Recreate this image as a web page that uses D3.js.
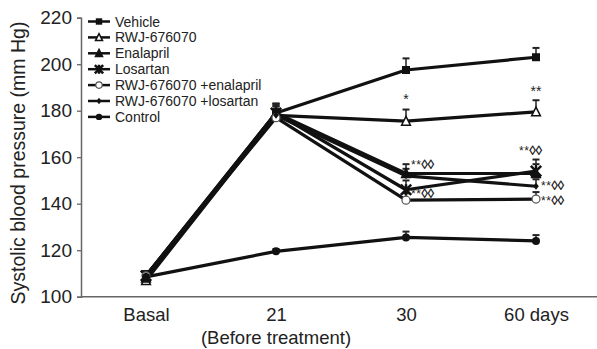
<!DOCTYPE html>
<html>
<head>
<meta charset="utf-8">
<script src="https://cdn.jsdelivr.net/npm/d3@7"></script>
<style>
  body { margin: 0; background: #fff; }
  text { font-family: "Liberation Sans", Arial, sans-serif; fill: #222; }
</style>
</head>
<body>
<div id="chart"></div>
<script>
// data
const timepoints = ["Basal", "21", "30", "60 days"]
const series_names = ["Vehicle", "RWJ-676070", "Enalapril", "Losartan",
  "RWJ-676070 +enalapril", "RWJ-676070 +losartan", "Control"]
const vehicle = [109, 179, 197.5, 203]
const rwj = [107, 178, 175.5, 179.5]
const enalapril = [108, 179, 153, 153]
const losartan = [109, 179, 146, 154]
const rwj_enalapril = [109, 177, 141.5, 142]
const rwj_losartan = [109, 178, 152, 147.5]
const control = [108.5, 119.5, 125.5, 124]
const errors_up = [
  [2, 4, 5, 4],
  [2, 4, 5, 5],
  [2, 4, 4, 4],
  [2, 4, 4, 5],
  [2, 4, 3, 3],
  [2, 4, 3, 3],
  [1, 1, 2.5, 2.5]
]
const y_ticks = [100, 120, 140, 160, 180, 200, 220]
const markers = ["square", "tri_open", "tri", "cross", "circle_open", "diamond", "circle"]
const annotations = [
  {t: 2, v: 183, label: "*"},
  {t: 3, v: 186.5, label: "**"}
]
const sig_marks = [
  {t: 2, v: 157, dx: 5},
  {t: 2, v: 144.5, dx: 5},
  {t: 3, v: 163, dx: -17},
  {t: 3, v: 148, dx: 5},
  {t: 3, v: 141.5, dx: 5}
]

const all_series = [vehicle, rwj, enalapril, losartan, rwj_enalapril, rwj_losartan, control]

const width = 597, height = 349
const svg = d3.select("#chart").append("svg")
  .attr("width", width).attr("height", height)

let x = d3.scalePoint().domain(timepoints).range([146, 536])
let y = d3.scaleLinear().domain([100, 220]).range([296.7, 17.7])

// axes
let y_axis = svg.append("g").attr("transform", "translate(81,0)")
  .call(d3.axisLeft(y).tickValues(y_ticks).tickSize(4).tickPadding(5))
y_axis.select(".domain").attr("stroke", "#666").attr("stroke-width", 1.5)
y_axis.selectAll(".tick line").attr("stroke", "#666").attr("stroke-width", 1.3)
y_axis.selectAll(".tick text").style("font-size", "19px").attr("fill", "#222")

let x_axis = svg.append("g").attr("transform", "translate(0,296.7)")
  .call(d3.axisBottom(x).tickSize(0).tickPadding(11))
x_axis.select(".domain").attr("d", "M81,0H597").attr("stroke", "#666").attr("stroke-width", 1.5)
x_axis.selectAll(".tick text").style("font-size", "18.5px").attr("fill", "#222")

svg.append("text").attr("x", 276).attr("y", 344).attr("text-anchor", "middle")
  .style("font-size", "18.5px").text("(Before treatment)")

svg.append("text")
  .attr("transform", "translate(25,163) rotate(-90)")
  .attr("text-anchor", "middle").style("font-size", "19.5px")
  .text("Systolic blood pressure (mm Hg)")

function draw_marker(g, kind, cx, cy, s) {
  let dark = "#111"
  if (kind == "square") {
    g.append("rect").attr("x", cx - s).attr("y", cy - s).attr("width", 2 * s).attr("height", 2 * s).attr("fill", dark)
  } else if (kind == "tri" || kind == "tri_open") {
    g.append("path").attr("d", `M${cx},${cy - s * 1.2}L${cx + s * 1.1},${cy + s}L${cx - s * 1.1},${cy + s}Z`)
      .attr("fill", kind == "tri" ? dark : "#fff").attr("stroke", dark).attr("stroke-width", 1.5)
  } else if (kind == "cross") {
    g.append("path").attr("d", `M${cx - s * 1.3},${cy - s * 1.3}L${cx + s * 1.3},${cy + s * 1.3}M${cx + s * 1.3},${cy - s * 1.3}L${cx - s * 1.3},${cy + s * 1.3}M${cx},${cy - s * 1.4}V${cy + s * 1.4}`)
      .attr("stroke", dark).attr("stroke-width", 2.5)
  } else if (kind == "circle_open") {
    g.append("circle").attr("cx", cx).attr("cy", cy).attr("r", s).attr("fill", "#fff").attr("stroke", "#555").attr("stroke-width", 1.2)
  } else if (kind == "diamond") {
    g.append("path").attr("d", `M${cx},${cy - s}L${cx + s * 0.8},${cy}L${cx},${cy + s}L${cx - s * 0.8},${cy}Z`).attr("fill", dark)
  } else {
    g.append("circle").attr("cx", cx).attr("cy", cy).attr("r", s).attr("fill", dark)
  }
}

let line = d3.line().x((d, i) => x(timepoints[i])).y(d => y(d))

// error bars
all_series.forEach((vals, si) => {
  vals.forEach((v, i) => {
    let cx = x(timepoints[i])
    let top = y(v + errors_up[si][i])
    svg.append("line").attr("x1", cx).attr("x2", cx).attr("y1", y(v)).attr("y2", top)
      .attr("stroke", "#222").attr("stroke-width", 1.5)
    svg.append("line").attr("x1", cx - 3.5).attr("x2", cx + 3.5).attr("y1", top).attr("y2", top)
      .attr("stroke", "#222").attr("stroke-width", 2)
  })
})

// lines
all_series.forEach((vals) => {
  svg.append("path").datum(vals).attr("d", line)
    .attr("fill", "none").attr("stroke", "#111").attr("stroke-width", 3.2)
    .attr("stroke-linejoin", "round")
})

// markers
all_series.forEach((vals, si) => {
  let g = svg.append("g")
  vals.forEach((v, i) => {
    draw_marker(g, markers[si], x(timepoints[i]), y(v), markers[si] == "diamond" ? 3.5 : 4)
  })
})

// significance labels
annotations.forEach((a) => {
  svg.append("text").attr("x", x(timepoints[a.t])).attr("y", y(a.v))
    .attr("text-anchor", "middle").style("font-size", "14px").text(a.label)
})
sig_marks.forEach((a) => {
  let t = svg.append("text").attr("x", x(timepoints[a.t]) + a.dx).attr("y", y(a.v) + 4.5)
  t.append("tspan").style("font-size", "12px").style("letter-spacing", "0.5px").text("**")
  t.append("tspan").style("font-size", "13.5px").style("font-weight", "bold")
    .style("letter-spacing", "-0.5px").text("\u25CA\u25CA")
})

// legend
let legend = svg.append("g")
series_names.forEach((name, i) => {
  let ly = 21.5 + i * 15.9
  legend.append("line").attr("x1", 88).attr("x2", 110).attr("y1", ly).attr("y2", ly)
    .attr("stroke", "#111").attr("stroke-width", 2.5)
  draw_marker(legend, markers[i], 99, ly, 3.2)
  legend.append("text").attr("x", 115).attr("y", ly + 5)
    .style("font-size", "14px").text(name)
})
</script>
</body>
</html>
